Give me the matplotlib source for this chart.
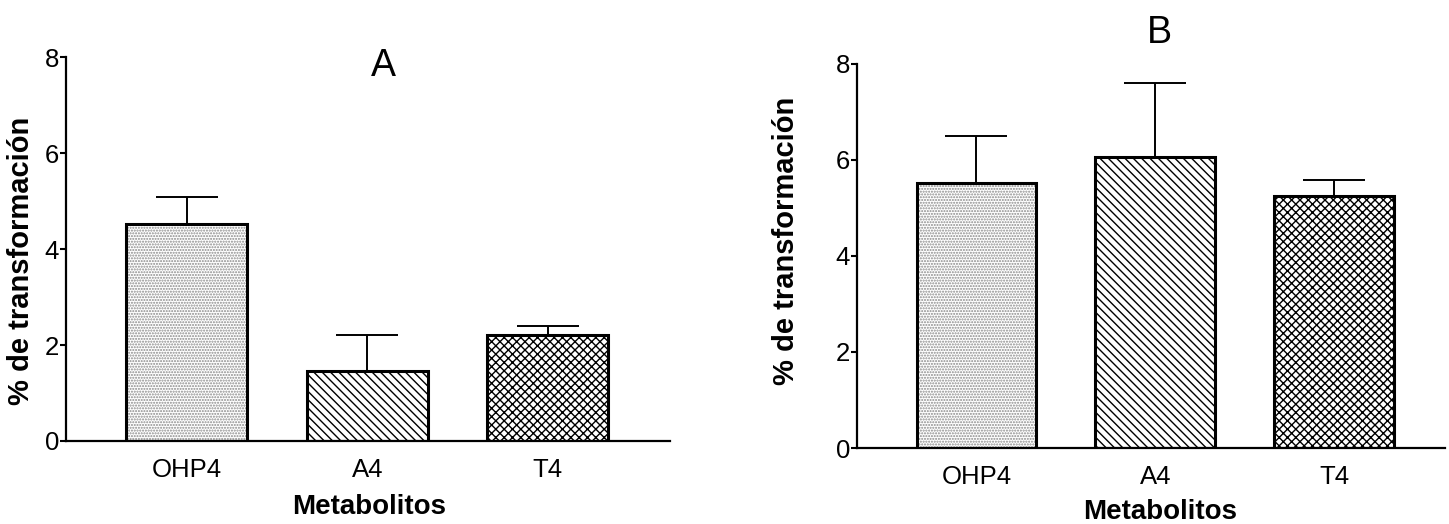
import matplotlib
matplotlib.use("Agg")
import matplotlib.pyplot as plt
import numpy as np

plt.rcParams['font.family'] = ['Liberation Sans', 'DejaVu Sans']
plt.rcParams['hatch.linewidth'] = 1.0

metabolitos = ["OHP4", "A4", "T4"]
media_a = [4.53, 1.46, 2.21]
error_a = [0.56, 0.75, 0.19]
media_b = [5.51, 6.06, 5.24]
error_b = [0.98, 1.53, 0.33]
hatches = ["......", "\\\\\\\\", "xxxx"]
hatch_colors = ["#8a8a8a", "black", "black"]


def panel(ax, vals, errs, title, title_xy, ylab_x, ylab_y, xlab_xy, xlab_font, xlim):
    x = np.arange(len(metabolitos))
    for i in range(len(x)):
        ax.bar(x[i], vals[i], width=0.67, color="white", hatch=hatches[i],
               edgecolor=hatch_colors[i], linewidth=0, zorder=2)
    ax.bar(x, vals, width=0.67, color="none", edgecolor="black", linewidth=2.2, zorder=3)
    ax.errorbar(x, vals, yerr=[np.zeros(len(x)), errs], fmt="none", ecolor="black",
                elinewidth=1.4, capsize=22, capthick=1.4, zorder=1)
    ax.set_ylim(0, 8)
    ax.set_xlim(*xlim)
    ax.set_yticks([0, 2, 4, 6, 8])
    ax.set_xticks(x)
    ax.set_xticklabels(metabolitos)
    ax.tick_params(axis="x", length=0, pad=12, labelsize=18.5)
    ax.tick_params(axis="y", length=4, width=1.5, pad=1, labelsize=18.5)
    for s in ["top", "right"]:
        ax.spines[s].set_visible(False)
    ax.spines["left"].set_linewidth(1.6)
    ax.spines["bottom"].set_linewidth(1.6)
    ax.set_ylabel("% de transformación", fontsize=21, fontweight="bold")
    ax.yaxis.set_label_coords(ylab_x, ylab_y)
    ax.text(xlab_xy[0], xlab_xy[1], "Metabolitos", transform=ax.transAxes,
            ha="center", va="center", fontsize=20, fontweight="bold", family=xlab_font)
    ax.text(title_xy[0], title_xy[1], title, transform=ax.transAxes,
            ha="center", va="center", fontsize=27)


fig = plt.figure(figsize=(14.49, 5.24), dpi=100)
ax1 = fig.add_axes([0.0455, 0.1584, 0.4168, 0.7328])
ax2 = fig.add_axes([0.5914, 0.145, 0.4060, 0.7338])

panel(ax1, media_a, error_a, "A", (0.525, 0.977), -0.051, 0.47, (0.502, -0.172),
      ["Liberation Sans Narrow", "Liberation Sans"], (-0.670, 2.676))
panel(ax2, media_b, error_b, "B", (0.515, 1.079), -0.096, 0.538, (0.515, -0.166),
      ["Liberation Sans"], (-0.668, 2.62))

fig.savefig("out.png", dpi=100)
